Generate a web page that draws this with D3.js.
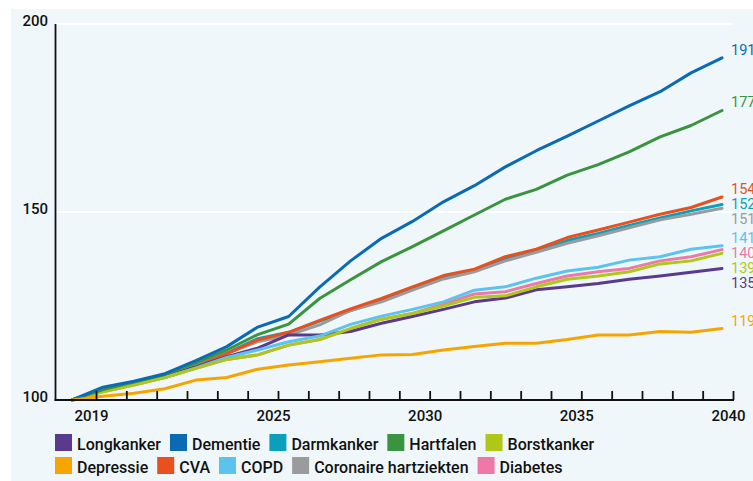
<!DOCTYPE html>
<html>
<head>
<meta charset="utf-8">
<script src="https://cdn.jsdelivr.net/npm/d3@7"></script>
<style>
  html, body { margin: 0; padding: 0; background: #ffffff; }
  svg { display: block; }
  text { font-family: Roboto, "Noto Sans", sans-serif; }
</style>
</head>
<body>
<svg id="chart" width="753" height="481"></svg>
<script>
// Years on the horizontal axis
const years = [2019, 2020, 2021, 2022, 2023, 2024, 2025, 2026, 2027, 2028, 2029,
               2030, 2031, 2032, 2033, 2034, 2035, 2036, 2037, 2038, 2039, 2040];
const labeledYears = [2019, 2025, 2030, 2035, 2040];
const yTicks = [100, 150, 200];

// Index values per condition (2019 = 100)
const longkanker  = [100, 102.5, 104.5, 106.3, 108.8, 111.5, 113.8, 117.3, 117.3, 118.2, 120.4, 122.2, 124.1, 126.1, 127.1, 129.3, 130.1, 131, 132.1, 133, 134, 135];
const dementie    = [100, 103.4, 105, 107, 110.5, 114.2, 119.4, 122.2, 130, 137, 143, 147.5, 152.7, 157, 162, 166.3, 170.2, 174.2, 178.2, 182, 187, 191];
const darmkanker  = [100, 102.5, 104.5, 106.3, 109, 112.5, 116.3, 118, 121, 123.8, 126.5, 129.5, 132.5, 134.3, 137.5, 139.5, 142.4, 144.3, 146.4, 148.4, 150.3, 152];
const hartfalen   = [100, 102.8, 104.8, 106.8, 109.8, 113.3, 117.4, 120.2, 127, 132, 136.8, 140.8, 145, 149.2, 153.4, 156, 159.8, 162.6, 166, 170, 173, 177];
const borstkanker = [100, 102.2, 104, 106, 108.4, 110.8, 112, 114.6, 116.1, 119, 121.5, 123, 125, 127.3, 127.7, 130.1, 132.1, 133, 134.1, 136.2, 137, 139];
const depressie   = [100, 101, 101.8, 103, 105.3, 106, 108.2, 109.3, 110.2, 111.1, 112, 112.1, 113.3, 114.2, 115.1, 115.1, 116.1, 117.3, 117.3, 118.2, 118, 119];
const cva         = [100, 102.5, 104.5, 106.3, 108.8, 112.3, 116, 118, 121.2, 124.2, 127, 130.1, 133.1, 134.8, 138.1, 140.1, 143.2, 145.2, 147.3, 149.4, 151.2, 154];
const copd        = [100, 102.3, 104.2, 106, 108.5, 111.3, 113.3, 115.5, 117, 120.1, 122.3, 124.1, 126.1, 129.2, 130.1, 132.4, 134.3, 135.3, 137.2, 138.1, 140.1, 141];
const coronaire   = [100, 102.5, 104.5, 106.3, 109, 112.4, 115.5, 117.3, 120, 123.8, 126.1, 129.2, 132.2, 134.1, 137, 139.3, 141.7, 143.7, 145.8, 147.9, 149.4, 151];
const diabetes    = [100, 102.2, 104, 106, 108.4, 110.8, 112, 114.6, 116.1, 119, 121.5, 123, 125.5, 128.2, 128.8, 131, 133, 134.1, 135, 137, 138.1, 140];

const names  = ["Longkanker", "Dementie", "Darmkanker", "Hartfalen", "Borstkanker",
                "Depressie", "CVA", "COPD", "Coronaire hartziekten", "Diabetes"];
const values = [longkanker, dementie, darmkanker, hartfalen, borstkanker,
                depressie, cva, copd, coronaire, diabetes];
const colors = ["#5a3a8c", "#0a6ab4", "#0c9fbc", "#3a933f", "#afc817",
                "#f6a500", "#e8501e", "#5cc3ee", "#9a9b9d", "#ee78a8"];
// Stacking order of the lines (first drawn is at the bottom)
const drawOrder = ["Diabetes", "Darmkanker", "Coronaire hartziekten", "CVA", "Longkanker",
                   "COPD", "Borstkanker", "Hartfalen", "Dementie", "Depressie"];

const series = names.map((n, i) => ({ name: n, values: values[i], color: colors[i] }));

const svg = d3.select("#chart");

// Panel background
svg.append("rect").attr("x", 11).attr("y", 9).attr("width", 742).attr("height", 472)
  .attr("fill", "#eff7fa");

const y = d3.scaleLinear().domain([100, 200]).range([400, 24]);
const xAxisScale = d3.scaleLinear().domain([2019, 2040]).range([96, 733]);
const xLine = d3.scaleLinear().domain([2019, 2040]).range([72, 722]);
const axisLeft = 55.5, axisRight = 733;

// White gridlines
svg.append("g").selectAll("line").data(yTicks.filter(t => t > 100)).join("line")
  .attr("x1", axisLeft).attr("x2", axisRight)
  .attr("y1", d => y(d)).attr("y2", d => y(d))
  .attr("stroke", "#ffffff").attr("stroke-width", 2);

// Y labels
svg.append("g").selectAll("text").data(yTicks).join("text")
  .attr("x", 48).attr("y", d => y(d) + 1.5)
  .attr("text-anchor", "end")
  .attr("font-size", 15).attr("font-weight", 500).attr("fill", "#111")
  .text(d => d);

// Lines
const line = d3.line().x((d, i) => xLine(years[i])).y(d => y(d));
const ordered = drawOrder.map(n => series.find(s => s.name === n));
svg.append("g").selectAll("path").data(ordered).join("path")
  .attr("d", d => line(d.values))
  .attr("fill", "none").attr("stroke", d => d.color)
  .attr("stroke-width", 3).attr("stroke-linejoin", "round").attr("stroke-linecap", "round");

// Axes
svg.append("line").attr("x1", axisLeft).attr("x2", axisLeft).attr("y1", y(200)).attr("y2", 401)
  .attr("stroke", "#111").attr("stroke-width", 1.8);

const xAxis = d3.axisBottom(xAxisScale).tickValues(years).tickSizeInner(-9).tickSizeOuter(0)
  .tickFormat(d => labeledYears.includes(d) ? d : "");
const gx = svg.append("g").attr("transform", "translate(0,400)").call(xAxis);
gx.select(".domain").remove();
gx.selectAll(".tick line").attr("stroke", "#111").attr("stroke-width", 1.8);
gx.selectAll(".tick text")
  .attr("y", 21).attr("dy", 0).attr("dx", -5)
  .attr("font-size", 15).attr("font-weight", 500).attr("fill", "#111")
  .attr("font-family", "Roboto, sans-serif");
svg.append("line").attr("x1", axisLeft - 0.9).attr("x2", axisRight + 1).attr("y1", 400).attr("y2", 400)
  .attr("stroke", "#111").attr("stroke-width", 2);

// End-value labels, spread so they don't overlap
const endLabels = series.map(s => ({ s, v: s.values[s.values.length - 1] }))
  .sort((a, b) => b.v - a.v);
let prev = -Infinity;
endLabels.forEach(d => {
  let base = y(d.v) - 3;
  if (base < prev + 15) base = prev + 15;
  d.base = base; prev = base;
});
svg.append("g").selectAll("text").data(endLabels).join("text")
  .attr("x", 731).attr("y", d => d.base)
  .attr("font-size", 14.5).attr("fill", d => d.s.color)
  .text(d => Math.round(d.v));

// Legend in two rows
const rows = [names.slice(0, 5), names.slice(5)];
const legend = svg.append("g");
rows.forEach((row, r) => {
  let x = 55;
  const top = 434 + r * 23;
  row.forEach(n => {
    const s = series.find(t => t.name === n);
    legend.append("rect").attr("x", x).attr("y", top).attr("width", 17).attr("height", 17)
      .attr("fill", s.color);
    const t = legend.append("text").attr("x", x + 22).attr("y", top + 16)
      .attr("font-size", 16).attr("font-weight", 500).attr("fill", "#111").text(n);
    x += 22 + t.node().getComputedTextLength() + 9;
  });
});
</script>
</body>
</html>
